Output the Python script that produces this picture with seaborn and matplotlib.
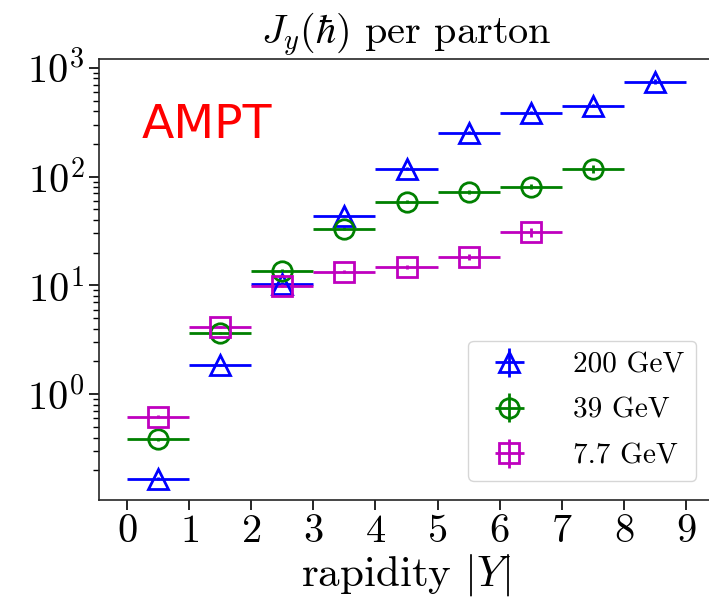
import matplotlib
matplotlib.use("Agg")
import matplotlib.pyplot as plt
import seaborn as sns

# rapidity bin centres and half widths
rapidity = [0.5, 1.5, 2.5, 3.5, 4.5, 5.5, 6.5, 7.5, 8.5]
bin_half = 0.5

# J_y per parton for each energy
jy_200 = [0.168, 1.85, 10.4, 43.5, 118, 253, 386, 448, 748]
err_200 = [0.005, 0.05, 0.3, 1.0, 4, 8, 12, 15, 40]
jy_39 = [0.384, 3.65, 13.7, 33.1, 58.6, 72.1, 80.9, 117.7]
err_39 = [0.01, 0.1, 0.4, 1.0, 2, 3, 4, 10]
jy_77 = [0.62, 4.18, 9.9, 13.4, 14.8, 18.3, 30.8]
err_77 = [0.02, 0.1, 0.3, 0.5, 0.6, 1.0, 3.0]

labels = ["200 GeV", "39 GeV", "7.7 GeV"]
colors = ["#0000ff", "#008000", "#bf00bf"]
markers = ["^", "o", "s"]

sns.set_theme(style="ticks")
plt.rcParams["font.family"] = ["serif"]
plt.rcParams["font.serif"] = ["cmr10", "DejaVu Serif"]
plt.rcParams["mathtext.fontset"] = "cm"
plt.rcParams["axes.formatter.use_mathtext"] = True
plt.rcParams["text.color"] = "black"
plt.rcParams["axes.labelcolor"] = "black"
plt.rcParams["xtick.color"] = "black"
plt.rcParams["ytick.color"] = "black"

fig = plt.figure(figsize=(7.09, 6.02), dpi=100)
ax = fig.add_axes([99 / 709, 1 - 500 / 602, 615 / 709, 441 / 602])

series = [jy_200, jy_39, jy_77]
errs = [err_200, err_39, err_77]
for vals, e, lab, c, m in zip(series, errs, labels, colors, markers):
    n = len(vals)
    ax.errorbar(rapidity[:n], vals, xerr=bin_half, yerr=e, fmt=m, color=c,
                mfc="none", mec=c, ms=14, mew=2, elinewidth=2, label=lab)

ax.set_yscale("log")
ax.set_xticks(range(10))
ax.set_title(r"$J_y(\hbar)$ per parton", fontsize=29, pad=8)
ax.set_xlabel(r"rapidity $|Y|$", fontsize=31, labelpad=1)
ax.tick_params(axis="both", which="major", labelsize=29, length=7, width=1.2)
ax.tick_params(axis="y", which="minor", length=4, width=1)
for s in ax.spines.values():
    s.set_linewidth(1.2)
    s.set_color("0.15")

ax.text(0.07, 0.85, "AMPT", transform=ax.transAxes, color="red",
        fontsize=34, family="DejaVu Sans", va="center")

ax.legend(loc="lower right", fontsize=21, frameon=True, framealpha=0.8,
          edgecolor="0.8", bbox_to_anchor=(0.995, 0.01), handletextpad=1.2,
          labelspacing=0.65)

fig.savefig("out.png", dpi=100)
